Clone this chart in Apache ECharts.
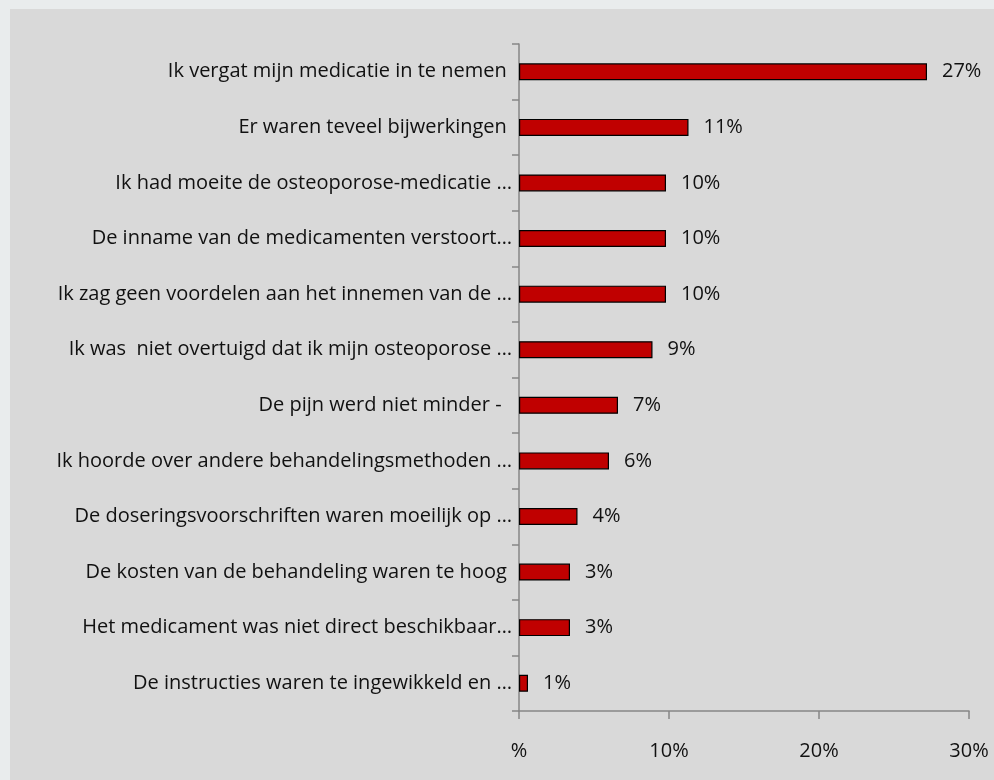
<!DOCTYPE html>
<html>
<head>
<meta charset="utf-8">
<script src="https://cdn.jsdelivr.net/npm/echarts@6/dist/echarts.min.js"></script>
<style>
  html, body { margin: 0; padding: 0; background: #e9eced; width: 994px; height: 780px; overflow: hidden; }
  #chart { position: absolute; left: 10px; top: 9px; width: 984px; height: 771px; background: #d9d9d9; }
</style>
</head>
<body>
<div id="chart"></div>
<script>
// Reasons for stopping osteoporosis medication (share of respondents, %)
const categories = [
  'Ik vergat mijn medicatie in te nemen ',
  'Er waren teveel bijwerkingen ',
  'Ik had moeite de osteoporose-medicatie …',
  'De inname van de medicamenten verstoort…',
  'Ik zag geen voordelen aan het innemen van de …',
  'Ik was  niet overtuigd dat ik mijn osteoporose …',
  'De pijn werd niet minder -  ',
  'Ik hoorde over andere behandelingsmethoden …',
  'De doseringsvoorschriften waren moeilijk op …',
  'De kosten van de behandeling waren te hoog ',
  'Het medicament was niet direct beschikbaar…',
  'De instructies waren te ingewikkeld en …'
];
const values = [27.2, 11.3, 9.8, 9.8, 9.8, 8.9, 6.6, 6.0, 3.9, 3.4, 3.4, 0.6];
const xTicks = [0, 10, 20, 30];

const FONT = '"Open Sans", Lato, sans-serif';
const axisGray = '#868686';

const chart = echarts.init(document.getElementById('chart'), null, { renderer: 'canvas' });
chart.setOption({
  animation: false,
  backgroundColor: '#d9d9d9',
  grid: { left: 509, right: 25, top: 35, bottom: 69, containLabel: false },
  xAxis: {
    type: 'value',
    min: xTicks[0],
    max: xTicks[xTicks.length - 1],
    interval: xTicks[1] - xTicks[0],
    splitLine: { show: false },
    axisLine: { show: true, lineStyle: { color: axisGray, width: 1.5 } },
    axisTick: { show: true, length: 8, lineStyle: { color: axisGray, width: 1.5 } },
    axisLabel: {
      margin: 30,
      color: '#111',
      fontFamily: FONT,
      fontSize: 20,
      formatter: v => (v === 0 ? '%' : v + '%')
    }
  },
  yAxis: {
    type: 'category',
    data: categories,
    inverse: true,
    axisLine: { show: true, lineStyle: { color: axisGray, width: 1.5 } },
    axisTick: { show: true, length: 7, alignWithLabel: false, lineStyle: { color: axisGray, width: 1.5 } },
    axisLabel: {
      margin: 7,
      color: '#111',
      fontFamily: FONT,
      fontSize: 20
    }
  },
  series: [{
    type: 'bar',
    data: values,
    barWidth: 17,
    itemStyle: { color: '#c00000', borderColor: '#000', borderWidth: 1.2 },
    label: {
      show: true,
      position: 'right',
      distance: 15,
      color: '#111',
      fontFamily: FONT,
      fontSize: 20,
      formatter: p => Math.round(p.value) + '%'
    }
  }]
});
</script>
</body>
</html>
